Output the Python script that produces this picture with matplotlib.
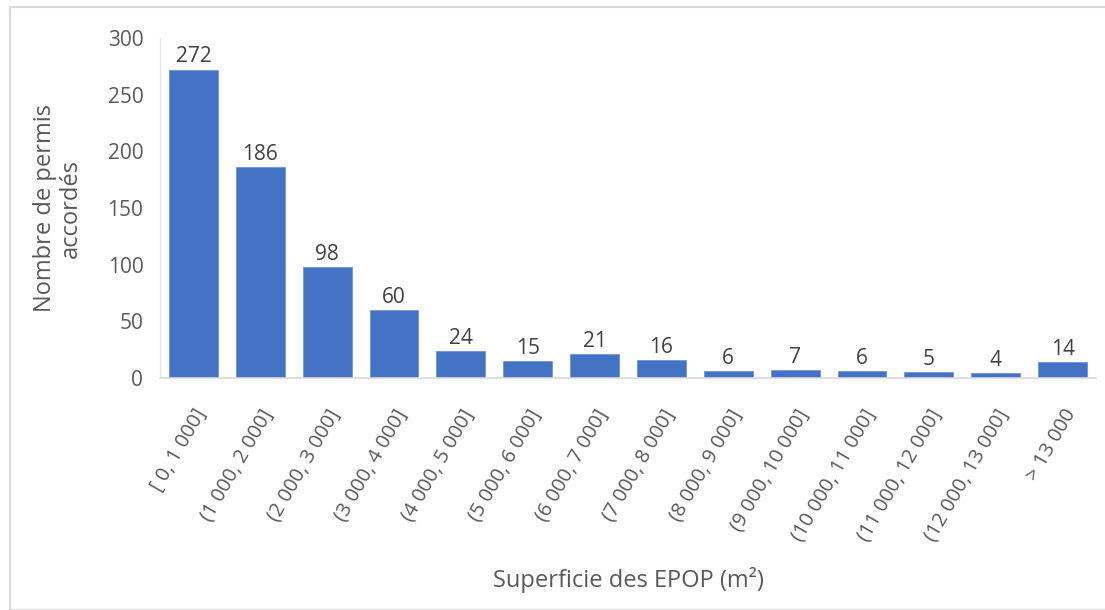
import matplotlib
matplotlib.use("Agg")
import matplotlib.pyplot as plt
from matplotlib.patches import Rectangle

categories = ["[ 0, 1 000]", "(1 000, 2 000]", "(2 000, 3 000]", "(3 000, 4 000]",
              "(4 000, 5 000]", "(5 000, 6 000]", "(6 000, 7 000]", "(7 000, 8 000]",
              "(8 000, 9 000]", "(9 000, 10 000]", "(10 000, 11 000]", "(11 000, 12 000]",
              "(12 000, 13 000]", "> 13 000"]
values = [272, 186, 98, 60, 24, 15, 21, 16, 6, 7, 6, 5, 4, 14]
yticks = [0, 50, 100, 150, 200, 250, 300]

plt.rcParams['font.family'] = ['Open Sans', 'DejaVu Sans']
txt = '#595959'
W, H = 1105, 610
fig = plt.figure(figsize=(W/100, H/100), dpi=100)
fig.patches.append(Rectangle((10/W, 0), 1.2, (H-7)/H, transform=fig.transFigure,
                             fill=False, edgecolor='#d9d9d9', linewidth=1.5))
ax = fig.add_axes([160/W, 1-378/H, (1096-160)/W, (378-38)/H])
x = list(range(len(categories)))
bars = ax.bar(x, values, width=0.73, color='#4472c4', edgecolor='#6f94d6', linewidth=0.6, zorder=2)
for xi, v in zip(x, values):
    ax.text(xi, v + 2, str(v), ha='center', va='bottom', fontsize=15, color='#404040')
ax.set_xlim(-0.5, len(categories) - 0.5)
ax.set_ylim(0, 300)
ax.set_yticks(yticks)
ax.set_yticklabels([str(t) for t in yticks], fontsize=15, color=txt)
ax.tick_params(axis='y', length=0, pad=12)
ax.tick_params(axis='x', length=0, pad=20)
ax.set_xticks(x)
ax.set_xticklabels(categories, rotation=60, ha='right', rotation_mode='anchor',
                   fontsize=14.5, color=txt)
for s in ['top', 'right']:
    ax.spines[s].set_visible(False)
ax.spines['bottom'].set_color('#d9d9d9')
ax.spines['bottom'].set_linewidth(1.2)
ax.spines['left'].set_color('#e6e6e6')
ax.spines['left'].set_linewidth(1.0)
fig.text(628/W, 1-580/H, "Superficie des EPOP (m²)", ha='center', va='center', fontsize=17, color=txt)
fig.text(58/W, 1-208/H, "Nombre de permis\naccordés", ha='center', va='center', rotation=90,
         fontsize=17, color=txt, linespacing=1.15)
fig.savefig("out.png", dpi=100)
